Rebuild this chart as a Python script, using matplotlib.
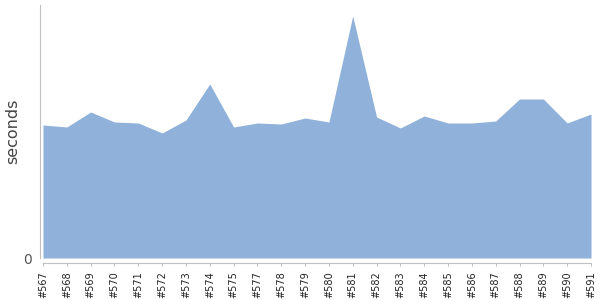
import matplotlib.pyplot as plt

# === DATA ===
builds = ["#567", "#568", "#569", "#570", "#571", "#572", "#573", "#574", "#575",
          "#577", "#578", "#579", "#580", "#581", "#582", "#583", "#584", "#585",
          "#586", "#587", "#588", "#589", "#590", "#591"]
seconds = [13.3, 13.1, 14.6, 13.6, 13.5, 12.5, 13.8, 17.4, 13.1,
           13.5, 13.4, 14.0, 13.6, 24.2, 14.1, 13.0, 14.2, 13.5,
           13.5, 13.7, 15.9, 15.9, 13.5, 14.4]

# === PLOT ===
fig = plt.figure(figsize=(6, 3), dpi=100)
ax = fig.add_axes([43 / 600, 42 / 300, 548 / 600, 253 / 300])

x = list(range(len(builds)))
ax.fill_between(x, seconds, 0, color="#8fb1da", linewidth=0)

ax.set_xlim(0, len(builds) - 1)
ax.set_ylim(0, 25.3)

ax.set_xticks(x)
ax.set_xticklabels(builds)
ax.set_yticks([0])
ax.set_yticklabels(["0"], fontsize=9)
fig.text(13 / 600, 1 - 131 / 300, "seconds", rotation=90, ha="center", va="center",
         fontsize=11.5, color="#444444")

for side in ["top", "right"]:
    ax.spines[side].set_visible(False)
ax.spines["left"].set_position(("outward", 2.2))
ax.spines["bottom"].set_position(("outward", 3.6))
ax.spines["left"].set_color("#c0c0c0")
ax.spines["bottom"].set_color("#c0c0c0")
ax.tick_params(axis="x", colors="#c0c0c0", length=2.2, labelcolor="#222222", pad=3.5)
ax.tick_params(axis="y", length=0, pad=6, labelcolor="#555555")
plt.setp(ax.get_xticklabels(), rotation=90, va="top", ha="center",
         rotation_mode="default", fontsize=7)

# === SAVE OUTPUT ===
plt.savefig("out.png", dpi=100)
